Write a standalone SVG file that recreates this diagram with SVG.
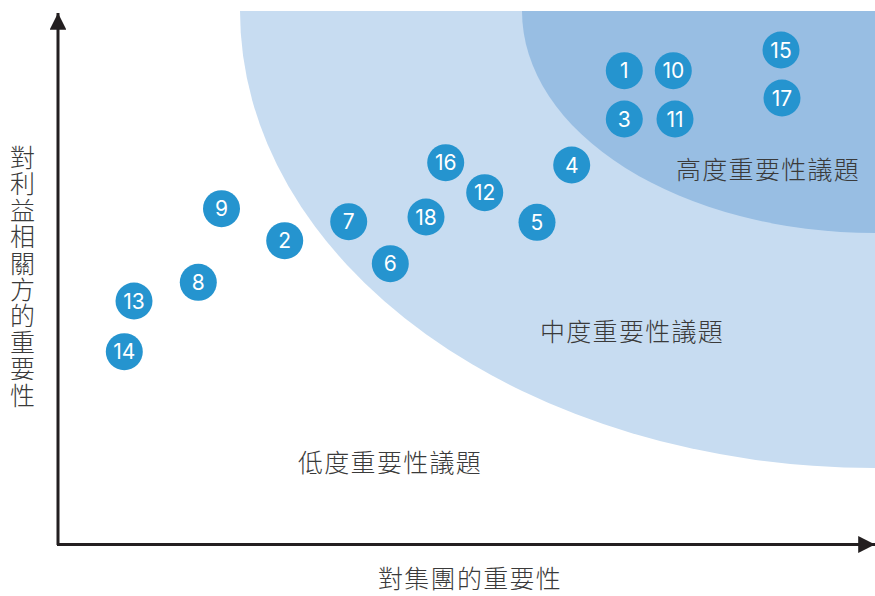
<svg xmlns="http://www.w3.org/2000/svg" width="875" height="596" viewBox="0 0 875 596">
<defs>
<style>
.lbl{font-family:"Noto Sans CJK TC","Noto Sans CJK SC",sans-serif;font-size:25px;font-weight:300;fill:#3a3a3a;letter-spacing:1.3px}
.dot circle{fill:#2594cf}
.dot text{font-family:Inter,"Noto Sans",sans-serif;font-size:21px;fill:#ffffff;text-anchor:middle;dominant-baseline:central}
.axis{stroke:#231f20;stroke-width:3;fill:none}
</style>
<marker id="arr" viewBox="0 0 10 10" refX="10" refY="5" markerWidth="7" markerHeight="5.6" markerUnits="strokeWidth" orient="auto">
<path d="M0,0 L10,5 L0,10 Z" fill="#231f20"/>
</marker>
</defs>
<rect width="875" height="596" fill="#ffffff"/>
<g id="zones">
<path id="zone-mid" d="M240 11 A635 457 0 0 0 875 468 L875 11 Z" fill="#c7dcf1"/>
<path id="zone-high" d="M522 11 A353 222 0 0 0 875 233 L875 11 Z" fill="#98bee3"/>
</g>
<g id="connectors">
<path class="axis" d="M58 545 L58 13" marker-end="url(#arr)"/>
<path class="axis" d="M57 544.5 L875 544.5" marker-end="url(#arr)"/>
</g>
<g id="labels">
<text class="lbl" x="676" y="179">高度重要性議題</text>
<text class="lbl" x="540" y="341">中度重要性議題</text>
<text class="lbl" x="298" y="472">低度重要性議題</text>
<text class="lbl" x="378" y="588">對集團的重要性</text>
<text class="lbl" x="22.5" y="145" style="writing-mode:vertical-rl;letter-spacing:1.4px">對利益相關方的重要性</text>
</g>
<g id="n1" class="dot"><circle cx="624.3" cy="70.7" r="18.5"/><text x="624.3" y="70.7">1</text></g>
<g id="n10" class="dot"><circle cx="673.3" cy="70.7" r="18.5"/><text x="673.3" y="70.7">10</text></g>
<g id="n15" class="dot"><circle cx="781" cy="50" r="18.5"/><text x="781" y="50">15</text></g>
<g id="n17" class="dot"><circle cx="782" cy="98" r="18.5"/><text x="782" y="98">17</text></g>
<g id="n3" class="dot"><circle cx="624.3" cy="119" r="18.5"/><text x="624.3" y="119">3</text></g>
<g id="n11" class="dot"><circle cx="675" cy="119" r="18.5"/><text x="675" y="119">11</text></g>
<g id="n4" class="dot"><circle cx="571.7" cy="165" r="18.5"/><text x="571.7" y="165">4</text></g>
<g id="n5" class="dot"><circle cx="537" cy="222.3" r="18.5"/><text x="537" y="222.3">5</text></g>
<g id="n16" class="dot"><circle cx="445.7" cy="162.7" r="18.5"/><text x="445.7" y="162.7">16</text></g>
<g id="n12" class="dot"><circle cx="484.7" cy="192.7" r="18.5"/><text x="484.7" y="192.7">12</text></g>
<g id="n18" class="dot"><circle cx="426" cy="217" r="18.5"/><text x="426" y="217">18</text></g>
<g id="n7" class="dot"><circle cx="348.7" cy="221.7" r="18.5"/><text x="348.7" y="221.7">7</text></g>
<g id="n6" class="dot"><circle cx="390.3" cy="263.7" r="18.5"/><text x="390.3" y="263.7">6</text></g>
<g id="n9" class="dot"><circle cx="221.5" cy="208.7" r="18.5"/><text x="221.5" y="208.7">9</text></g>
<g id="n2" class="dot"><circle cx="284.7" cy="240.7" r="18.5"/><text x="284.7" y="240.7">2</text></g>
<g id="n8" class="dot"><circle cx="198.3" cy="282.3" r="18.5"/><text x="198.3" y="282.3">8</text></g>
<g id="n13" class="dot"><circle cx="134" cy="301" r="18.5"/><text x="134" y="301">13</text></g>
<g id="n14" class="dot"><circle cx="124.3" cy="351.7" r="18.5"/><text x="124.3" y="351.7">14</text></g>
</svg>
